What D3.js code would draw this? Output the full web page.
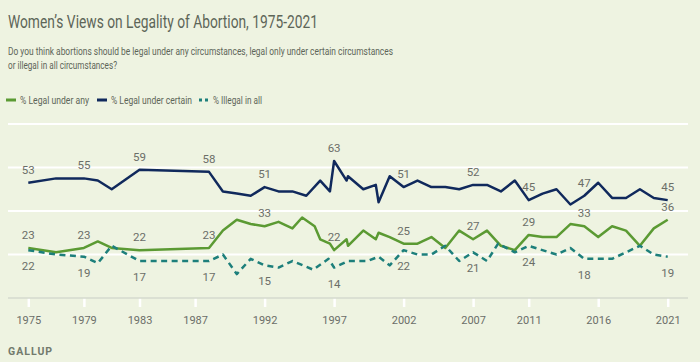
<!DOCTYPE html>
<html>
<head>
<meta charset="utf-8">
<script src="https://cdn.jsdelivr.net/npm/d3@7"></script>
<style>
  body { margin: 0; background: #eef3e1; }
  svg { display: block; font-family: Roboto, "Noto Sans", sans-serif; }
</style>
</head>
<body>
<div id="chart-area"></div>
<script>
// Survey points: [year, percent]
const legalAny = [
    [1975,23],[1977,21],[1979,23],[1980,26],[1981,23],[1983,22],[1988,23],[1989,31],
    [1990,36],[1991,34],[1992,33],[1993,35],[1994,32],[1994.7,37],[1995.6,33],[1996,27],
    [1996.7,25],[1997,22],[1997.9,27],[1998,24],[1999.1,31],[2000,27],[2000.2,30],[2001,28],
    [2002,25],[2003,25],[2004,28],[2005,23],[2006,31],[2007,27],[2008,31],[2009,24],
    [2010,22],[2011,29],[2012,28],[2013,28],[2014,34],[2015,33],[2016,28],[2017,33],
    [2018,31],[2019,24],[2020,32],[2021,36]
];
const legalCertain = [
    [1975,53],[1977,55],[1979,55],[1980,54],[1981,50],[1983,59],[1988,58],[1989,49],
    [1990,48],[1991,47],[1992,51],[1993,49],[1994,49],[1995,47],[1996,54],[1996.7,49],
    [1997,63],[1997.9,54],[1998,56],[1999.1,50],[2000,52],[2000.2,44],[2001,56],[2002,51],
    [2003,54],[2004,51],[2005,51],[2006,50],[2007,52],[2008,52],[2009,49],[2010,54],
    [2011,45],[2012,48],[2013,50],[2014,43],[2015,47],[2016,53],[2017,46],[2018,46],
    [2019,50],[2020,46],[2021,45]
];
const illegalAll = [
    [1975,22],[1977,20],[1979,19],[1980,16],[1981,24],[1983,17],[1988,17],[1989,20],
    [1990,11],[1991,18],[1992,15],[1993,14],[1994,17],[1995.5,13],[1996.6,18],[1997,14],
    [1998,17],[1999.4,17],[2000.2,19],[2001,15],[2002,22],[2003,20],[2004,20],[2005,24],
    [2006,17],[2007,21],[2008,17],[2008.8,25],[2010,21],[2011,24],[2013,20],[2014,23],
    [2015,18],[2017,18],[2019,24],[2020,20],[2021,19]
];

// Years that get a value label
const labelYears = [1975, 1979, 1983, 1988, 1992, 1997, 2002, 2007, 2011, 2015, 2021];
// Tick labels on x axis
const tickYears = [1975, 1979, 1983, 1987, 1992, 1997, 2002, 2007, 2011, 2016, 2021];
const gridValues = [20, 40, 60, 80];

const seriesNames = ["% Legal under any", "% Legal under certain", "% Illegal in all"];
const seriesColors = ["#5b9a33", "#10295c", "#1d7f7b"];

const margin = { left: 8, right: 12, top: 124, bottom: 64 },
    width = 700 - margin.left - margin.right,
    height = 362 - margin.top - margin.bottom;

const svg = d3.select("#chart-area").append("svg")
    .attr("width", 700)
    .attr("height", 362);

svg.append("rect").attr("width", 700).attr("height", 362).attr("fill", "#eef3e1");

// Title and question
svg.append("text")
    .attr("x", 8).attr("y", 28)
    .attr("font-size", 18)
    .attr("fill", "#5d6558")
    .attr("textLength", 310).attr("lengthAdjust", "spacingAndGlyphs")
    .text("Women\u2019s Views on Legality of Abortion, 1975-2021");

svg.append("text")
    .attr("x", 8).attr("y", 55)
    .attr("font-size", 11)
    .attr("fill", "#5d6558")
    .attr("textLength", 385).attr("lengthAdjust", "spacingAndGlyphs")
    .text("Do you think abortions should be legal under any circumstances, legal only under certain circumstances");
svg.append("text")
    .attr("x", 8).attr("y", 69)
    .attr("font-size", 11)
    .attr("fill", "#5d6558")
    .attr("textLength", 109).attr("lengthAdjust", "spacingAndGlyphs")
    .text("or illegal in all circumstances?");

// Legend
const legendX = [6, 97, 199];
const legendW = [69, 81, 49];
seriesNames.forEach(function(name, i) {
    svg.append("line")
        .attr("x1", legendX[i]).attr("x2", legendX[i] + 10)
        .attr("y1", 100).attr("y2", 100)
        .attr("stroke", seriesColors[i])
        .attr("stroke-width", 3)
        .attr("stroke-dasharray", i === 2 ? "3,3" : null);
    svg.append("text")
        .attr("x", legendX[i] + 14).attr("y", 104)
        .attr("font-size", 11)
        .attr("fill", "#5d6558")
        .attr("textLength", legendW[i]).attr("lengthAdjust", "spacingAndGlyphs")
        .text(name);
});

const g = svg.append("g")
    .attr("transform", "translate(" + margin.left + ", " + margin.top + ")");

// Scales
const x = d3.scaleLinear().domain([1975, 2021]).range([20.3, 659.7]);
const y = d3.scaleLinear().domain([0, 80]).range([height, 0]);

// Gridlines
g.selectAll(".grid").data(gridValues).enter().append("line")
    .attr("class", "grid")
    .attr("x1", 0).attr("x2", width)
    .attr("y1", d => y(d)).attr("y2", d => y(d))
    .attr("stroke", "#ffffff")
    .attr("stroke-width", 2);

// X axis
const xAxisCall = d3.axisBottom(x)
    .tickValues(tickYears)
    .tickFormat(d3.format("d"))
    .tickSize(9)
    .tickPadding(9);
const xAxis = g.append("g")
    .attr("class", "x axis")
    .attr("transform", "translate(0," + height + ")")
    .call(xAxisCall);
xAxis.select(".domain").remove();
xAxis.selectAll(".tick line").attr("stroke", "#ffffff").attr("stroke-width", 2.5);
xAxis.selectAll(".tick text")
    .attr("fill", "#6b6e68")
    .attr("font-size", 11)
    .attr("font-family", "Roboto, sans-serif");
g.append("line")
    .attr("x1", 0).attr("x2", width)
    .attr("y1", height).attr("y2", height)
    .attr("stroke", "#d5dace")
    .attr("stroke-width", 1.5);

// Lines
const line = d3.line()
    .x(function(d) { return x(d[0]); })
    .y(function(d) { return y(d[1]); });

const allSeries = [legalAny, legalCertain, illegalAll];
allSeries.forEach(function(data, i) {
    g.append("path")
        .attr("fill", "none")
        .attr("stroke", seriesColors[i])
        .attr("stroke-width", 2.5)
        .attr("stroke-linejoin", "round")
        .attr("stroke-dasharray", i === 2 ? "6,4.5" : null)
        .attr("d", line(data));
});

// Value labels
allSeries.forEach(function(data, i) {
    const pts = data.filter(d => labelYears.indexOf(d[0]) >= 0);
    g.selectAll(".lbl" + i).data(pts).enter().append("text")
        .attr("class", "lbl" + i)
        .attr("x", d => x(d[0]))
        .attr("y", d => i === 2 ? y(d[1]) + 20 : y(d[1]) - 9)
        .attr("text-anchor", "middle")
        .attr("font-size", 11.5)
        .attr("fill", "#6b6e68")
        .text(d => d[1]);
});

// Source
svg.append("text")
    .attr("x", 8).attr("y", 355)
    .attr("font-size", 10.5)
    .attr("font-weight", "bold")
    .attr("letter-spacing", "1px")
    .attr("fill", "#727a6c")
    .text("GALLUP");
</script>
</body>
</html>
